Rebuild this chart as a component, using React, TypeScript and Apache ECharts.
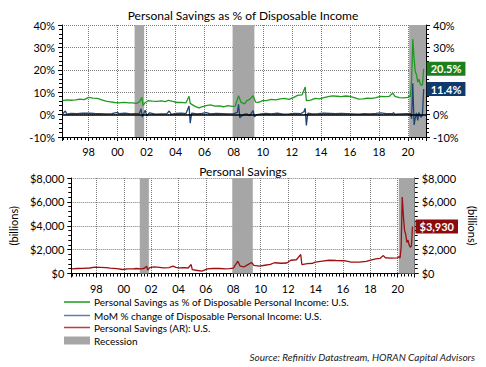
import React, { useEffect, useRef } from 'react';
import * as echarts from 'echarts';

// ---- data (x = decimal year, month-end) ----
const recessions: [number, number][] = [
  [2001.17, 2001.83],
  [2007.92, 2009.42],
  [2020.08, 2021.24],
];

const savingsRate: [number, number][] = [
  [1996.2, 6.2], [1996.5, 6.6], [1996.8, 6.4], [1997.1, 6.6], [1997.4, 6.9], [1997.7, 6.7],
  [1998.0, 7.7], [1998.3, 7.4], [1998.6, 7.2], [1998.9, 6.6], [1999.2, 6.0], [1999.5, 5.7],
  [1999.8, 5.4], [2000.1, 5.2], [2000.4, 5.5], [2000.7, 5.3], [2001.0, 5.2], [2001.3, 5.0],
  [2001.5, 5.7], [2001.67, 7.7], [2001.75, 4.0], [2001.9, 5.4], [2002.1, 6.2], [2002.4, 6.0],
  [2002.7, 5.9], [2003.0, 6.1], [2003.3, 5.8], [2003.5, 6.4], [2003.8, 5.9], [2004.1, 5.4],
  [2004.4, 5.5], [2004.7, 5.2], [2004.92, 8.2], [2005.0, 5.0], [2005.3, 3.8], [2005.6, 3.0],
  [2005.8, 3.4], [2006.1, 4.0], [2006.4, 4.3], [2006.7, 3.8], [2007.0, 3.9], [2007.3, 3.5],
  [2007.6, 4.0], [2007.9, 3.7], [2008.1, 3.8], [2008.33, 8.4], [2008.5, 5.5], [2008.75, 4.8],
  [2008.9, 6.2], [2009.1, 6.8], [2009.33, 8.4], [2009.5, 5.6], [2009.7, 5.5], [2010.0, 6.2],
  [2010.3, 6.3], [2010.6, 6.8], [2010.9, 6.6], [2011.2, 7.0], [2011.5, 7.2], [2011.8, 6.8],
  [2012.1, 7.6], [2012.4, 8.6], [2012.7, 8.8], [2012.92, 12.3], [2013.0, 6.2], [2013.3, 6.5],
  [2013.6, 7.2], [2013.9, 7.0], [2014.2, 7.6], [2014.5, 8.0], [2014.8, 8.4], [2015.1, 8.2],
  [2015.4, 8.0], [2015.7, 8.3], [2016.0, 8.1], [2016.3, 7.6], [2016.6, 6.9], [2016.9, 7.0],
  [2017.2, 7.3], [2017.5, 7.2], [2017.8, 7.6], [2018.1, 8.1], [2018.4, 8.0], [2018.7, 8.1],
  [2018.95, 9.6], [2019.1, 8.1], [2019.4, 7.6], [2019.7, 7.5], [2020.0, 7.7], [2020.08, 8.3],
  [2020.17, 8.0], [2020.25, 15.7], [2020.33, 33.7], [2020.42, 24.9], [2020.5, 19.2],
  [2020.58, 17.9], [2020.67, 14.5], [2020.75, 15.8], [2020.83, 13.9], [2020.92, 13.0],
  [2021.0, 13.4], [2021.08, 20.5],
];

const dpiMoM: [number, number][] = [
  [1996.2, 0.3], [1996.4, 1.6], [1996.5, 0.2], [1996.8, 0.5], [1997.2, 0.4], [1997.6, 0.6],
  [1998.0, 0.7], [1998.4, 0.5], [1998.8, 0.4], [1999.2, 0.3], [1999.6, 0.4], [2000.0, 1.0],
  [2000.1, 0.4], [2000.5, 0.6], [2000.9, 0.3], [2001.2, 0.4], [2001.5, 0.5], [2001.62, 2.6],
  [2001.7, -1.1], [2001.8, 0.4], [2001.9, 2.0], [2002.0, -0.6], [2002.2, 0.8], [2002.6, 0.2],
  [2003.0, 0.3], [2003.4, 0.4], [2003.55, 1.6], [2003.7, 0.1], [2004.0, 0.5], [2004.4, 0.6],
  [2004.7, 0.4], [2004.92, 3.8], [2005.0, -3.8], [2005.1, 0.6], [2005.5, 0.3], [2005.8, 0.5],
  [2006.1, 0.9], [2006.4, 0.3], [2006.8, 0.5], [2007.2, 0.4], [2007.6, 0.3], [2008.0, 0.4],
  [2008.25, 1.0], [2008.33, 4.6], [2008.42, -1.5], [2008.5, -0.8], [2008.75, 0.2], [2008.9, 0.3],
  [2009.1, -0.5], [2009.33, 1.8], [2009.42, -1.0], [2009.6, 0.0], [2009.9, 0.3], [2010.2, 0.5],
  [2010.6, 0.3], [2011.0, 0.6], [2011.4, 0.2], [2011.8, 0.3], [2012.2, 0.5], [2012.6, 0.4],
  [2012.83, 1.3], [2012.92, 2.8], [2013.0, -4.8], [2013.1, 0.6], [2013.4, 0.3], [2013.8, 0.4],
  [2014.2, 0.6], [2014.6, 0.5], [2015.0, 0.4], [2015.4, 0.5], [2015.8, 0.4], [2016.2, 0.3],
  [2016.6, 0.2], [2017.0, 0.4], [2017.4, 0.3], [2017.8, 0.5], [2018.1, 0.8], [2018.5, 0.4],
  [2018.95, 0.5], [2019.0, 0.9], [2019.1, 0.2], [2019.5, 0.3], [2019.9, 0.4], [2020.08, 0.4],
  [2020.17, 0.4], [2020.25, -1.8], [2020.33, 14.0], [2020.42, -4.6], [2020.5, -1.6],
  [2020.58, 0.8], [2020.67, -2.6], [2020.75, 1.0], [2020.83, -0.6], [2020.92, -1.2],
  [2021.0, 0.4], [2021.08, 11.4],
];

const personalSavings: [number, number][] = [
  [1996.2, 390], [1996.6, 420], [1997.0, 430], [1997.5, 460], [1997.9, 530], [1998.3, 520],
  [1998.7, 500], [1999.0, 445], [1999.5, 410], [1999.9, 335], [2000.3, 390], [2000.7, 380],
  [2000.9, 420], [2001.3, 380], [2001.5, 440], [2001.67, 610], [2001.75, 280], [2001.9, 500],
  [2002.2, 560], [2002.6, 520], [2002.9, 475], [2003.3, 500], [2003.6, 610], [2003.8, 520],
  [2004.0, 475], [2004.4, 500], [2004.7, 460], [2004.92, 750], [2005.0, 320], [2005.4, 250],
  [2005.7, 200], [2006.1, 390], [2006.5, 420], [2007.0, 420], [2007.4, 380], [2007.7, 400],
  [2008.0, 450], [2008.33, 1030], [2008.5, 610], [2008.8, 560], [2009.0, 700], [2009.33, 920],
  [2009.5, 680], [2009.9, 610], [2010.3, 690], [2010.7, 760], [2011.0, 900], [2011.5, 860],
  [2011.9, 880], [2012.2, 1110], [2012.6, 1150], [2012.92, 1590], [2013.0, 750], [2013.4, 820],
  [2013.8, 860], [2014.0, 945], [2014.5, 1030], [2015.0, 1110], [2015.5, 1090], [2016.1, 1070],
  [2016.6, 960], [2017.2, 945], [2017.7, 1020], [2018.1, 1150], [2018.4, 1230], [2018.7, 1260],
  [2018.95, 1500], [2019.1, 1320], [2019.5, 1290], [2020.0, 1310], [2020.08, 1400],
  [2020.17, 1300], [2020.25, 2200], [2020.33, 6400], [2020.42, 4700], [2020.5, 3600],
  [2020.58, 3300], [2020.67, 2600], [2020.75, 2800], [2020.83, 2400], [2020.92, 2200],
  [2021.0, 2300], [2021.08, 3930],
];

const xRange: [number, number] = [1996.17, 2021.24];
const rateTicks = [-10, 0, 10, 20, 30, 40];
const dollarTicks = [0, 2000, 4000, 6000, 8000];
// right-axis tick labels hidden behind the latest-value boxes
const hiddenRightRate = [10, 20];
const hiddenRightDollar = [4000];

const titles = ['Personal Savings as % of Disposable Income', 'Personal Savings'];
const legendLabels = [
  'Personal Savings as % of Disposable Personal Income: U.S.',
  'MoM % change of Disposable Personal Income: U.S.',
  'Personal Savings (AR): U.S.',
  'Recession',
];
const sourceText = 'Source: Refinitiv Datastream, HORAN Capital Advisors';
const axisUnit = '(billions)';

const FONT = 'Lato, "Open Sans", sans-serif';
const GREEN = '#1f9a1f';
const BLUE = '#1d4577';
const RED = '#9e0f0f';
const GRAY = '#a6a6a6';
const GRID = '#7a7a7a';

const yearLabel = (v: number) => {
  const r = Math.round(v);
  if (Math.abs(v - r) > 1e-6 || r % 2 !== 0) return '';
  return String(r % 100).padStart(2, '0');
};

function xAxisCfg(gridIndex: number) {
  return {
    type: 'value',
    gridIndex,
    min: xRange[0],
    max: xRange[1],
    splitNumber: 12,
    minInterval: 2,
    maxInterval: 2,
    axisLine: { show: true, onZero: false, lineStyle: { color: '#000', width: 1 } },
    axisTick: { show: true, length: 4, lineStyle: { color: '#000' } },
    minorTick: { show: true, splitNumber: 8, length: 3, lineStyle: { color: '#000' } },
    axisLabel: { formatter: yearLabel, color: '#000', fontSize: 11, margin: 9, fontFamily: FONT },
    splitLine: { show: true, lineStyle: { color: GRID, type: 'dotted', width: 1 } },
  };
}

function yAxisCfg(gridIndex: number, right: boolean, ticks: number[], fmt: (v: number) => string, hidden: number[], name?: string) {
  return {
    type: 'value',
    gridIndex,
    position: right ? 'right' : 'left',
    min: ticks[0],
    max: ticks[ticks.length - 1],
    interval: ticks[1] - ticks[0],
    name: name || '',
    nameLocation: 'middle',
    nameRotate: right ? -90 : 90,
    nameGap: right ? 47 : 48,
    nameTextStyle: { color: '#000', fontSize: 11, fontFamily: FONT },
    axisLine: { show: true, lineStyle: { color: '#000', width: 1 } },
    axisTick: { show: true, length: 4, lineStyle: { color: '#000' } },
    minorTick: { show: true, splitNumber: 5, length: 3, lineStyle: { color: '#000' } },
    axisLabel: {
      formatter: (v: number) => (hidden.includes(v) ? '' : fmt(v)),
      color: '#000', fontSize: 11, margin: 7, fontFamily: FONT,
    },
    splitLine: { show: !right, lineStyle: { color: GRID, type: 'dotted', width: 1 } },
  };
}

const pct = (v: number) => `${v}%`;
const usd = (v: number) => `$${v.toLocaleString('en-US')}`;

function endLabel(bg: string, fmt: (v: number) => string) {
  return {
    show: true,
    formatter: (p: any) => fmt(p.value[1]),
    backgroundColor: bg,
    color: '#fff',
    fontWeight: 'bold',
    fontSize: 11,
    fontFamily: FONT,
    padding: [2, 4, 1, 4],
    distance: 3,
  };
}

export default function App() {
  const ref = useRef<HTMLDivElement>(null);
  useEffect(() => {
    if (!ref.current) return;
    const chart = echarts.init(ref.current, null, { renderer: 'svg' });
    const recessionAreas = recessions.map(([a, b]) => [{ xAxis: a }, { xAxis: b }]);

    const legendY = [302, 315.5, 327.5, 340.5];
    const legendColors = [GREEN, '#5a7fb3', '#c63a3a'];
    const legendGraphics: any[] = [];
    legendLabels.forEach((label, i) => {
      if (i < 3) {
        legendGraphics.push({
          type: 'line',
          shape: { x1: 64, y1: legendY[i], x2: 90, y2: legendY[i] },
          style: { stroke: legendColors[i], lineWidth: 1.5 },
        });
      } else {
        legendGraphics.push({
          type: 'rect',
          shape: { x: 64, y: legendY[i] - 4, width: 26, height: 8 },
          style: { fill: GRAY },
        });
      }
      legendGraphics.push({
        type: 'text',
        x: 94,
        y: legendY[i],
        style: { text: label, fill: '#000', font: `10px ${FONT}`, textVerticalAlign: 'middle' },
      });
    });
    legendGraphics.push({
      type: 'text',
      x: 475,
      y: 357,
      style: {
        text: sourceText,
        fill: '#222',
        font: `italic 10px ${FONT}`,
        textAlign: 'right',
        textVerticalAlign: 'middle',
      },
    });

    chart.setOption({
      animation: false,
      textStyle: { fontFamily: FONT },
      title: [
        { text: titles[0], left: 'center', top: 4, textStyle: { fontSize: 12, fontWeight: 'normal', color: '#000', fontFamily: FONT } },
        { text: titles[1], left: 'center', top: 160, textStyle: { fontSize: 12, fontWeight: 'normal', color: '#000', fontFamily: FONT } },
      ],
      grid: [
        { left: 62, right: 60, top: 25, height: 112 },
        { left: 62, right: 60, top: 178, height: 95.5 },
      ],
      xAxis: [xAxisCfg(0), xAxisCfg(1)],
      yAxis: [
        yAxisCfg(0, false, rateTicks, pct, []),
        yAxisCfg(0, true, rateTicks, pct, hiddenRightRate),
        yAxisCfg(1, false, dollarTicks, usd, [], axisUnit),
        yAxisCfg(1, true, dollarTicks, usd, hiddenRightDollar, axisUnit),
      ],
      series: [
        {
          type: 'line', name: 'recession-top', xAxisIndex: 0, yAxisIndex: 0, data: [], z: 1, silent: true,
          markArea: { silent: true, itemStyle: { color: GRAY }, data: recessionAreas },
          markLine: {
            silent: true, symbol: 'none', label: { show: false },
            lineStyle: { color: '#000', type: 'solid', width: 1.5 },
            data: [{ yAxis: 0 }],
          },
        },
        {
          type: 'line', name: 'recession-bottom', xAxisIndex: 1, yAxisIndex: 2, data: [], z: 1, silent: true,
          markArea: { silent: true, itemStyle: { color: GRAY }, data: recessionAreas },
        },
        {
          type: 'line', name: legendLabels[0], xAxisIndex: 0, yAxisIndex: 0, data: savingsRate,
          showSymbol: false, z: 3, lineStyle: { color: GREEN, width: 1.3 }, itemStyle: { color: GREEN },
          endLabel: endLabel('#1c7f1c', (v) => `${v.toFixed(1)}%`),
        },
        {
          type: 'line', name: legendLabels[1], xAxisIndex: 0, yAxisIndex: 0, data: dpiMoM,
          showSymbol: false, z: 4, lineStyle: { color: BLUE, width: 1.3 }, itemStyle: { color: BLUE },
          endLabel: endLabel('#0f3a6b', (v) => `${v.toFixed(1)}%`),
        },
        {
          type: 'line', name: legendLabels[2], xAxisIndex: 1, yAxisIndex: 2, data: personalSavings,
          showSymbol: false, z: 3, lineStyle: { color: RED, width: 1.3 }, itemStyle: { color: RED },
          endLabel: endLabel('#8b0a0a', (v) => usd(v)),
        },
      ],
      graphic: legendGraphics,
    });
    return () => chart.dispose();
  }, []);
  return <div ref={ref} style={{ position: 'fixed', left: 0, top: 0, width: 486, height: 367, background: '#fff' }} />;
}
